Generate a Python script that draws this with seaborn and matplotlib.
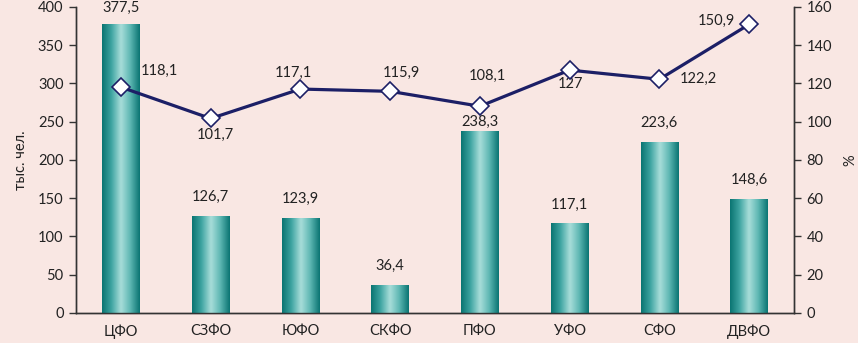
import numpy as np
import matplotlib
matplotlib.use("Agg")
import matplotlib.pyplot as plt
import seaborn as sns
from matplotlib.colors import LinearSegmentedColormap

# data
regions = ["ЦФО", "СЗФО", "ЮФО", "СКФО", "ПФО", "УФО", "СФО", "ДВФО"]
people = [377.5, 126.7, 123.9, 36.4, 238.3, 117.1, 223.6, 148.6]   # тыс. чел.
percent = [118.1, 101.7, 117.1, 115.9, 108.1, 127.0, 122.2, 150.9]  # %

# label offsets (pixels)
bar_offsets = [16, 19, 19, 19, 9, 19, 19, 19]
pct_offsets = [(38, 16), (5, -16), (-7, 16), (11, 18), (7, 30), (1, -14), (39, 0), (-33, 4)]

bg = "#F9E7E3"
navy = "#1C1F66"
ink = "#222222"
fs = 10.5
sns.set_theme(style="white")
plt.rcParams["font.family"] = ["Lato", "DejaVu Sans"]

fig = plt.figure(figsize=(8.58, 3.43), dpi=100, facecolor=bg)
ax = fig.add_axes([0.0886, 0.0875, 0.8368, 0.8921])
ax.set_facecolor(bg)

sns.barplot(x=regions, y=people, ax=ax, color="#138381", width=0.42,
            edgecolor="none", zorder=2)

# cylinder-like gradient on each bar
teal = LinearSegmentedColormap.from_list(
    "teal", ["#0B7573", "#3FA5A2", "#A9DEDA", "#5DB7B3", "#0B7573"])
grad = np.linspace(0, 1, 64).reshape(1, -1)
for p, dy in zip(ax.patches, bar_offsets):
    x0, y0 = p.get_x(), p.get_y()
    w, h = p.get_width(), p.get_height()
    im = ax.imshow(grad, cmap=teal, aspect="auto", extent=[x0, x0 + w, y0, y0 + h],
                   zorder=3, interpolation="bicubic")
    im.set_clip_path(p)
    ax.annotate(f"{h:.1f}".replace(".", ","), (x0 + w / 2, y0 + h),
                xytext=(0, dy), textcoords="offset pixels",
                ha="center", va="center", fontsize=fs, color=ink,
                annotation_clip=False)

ax.set_xlim(-0.5, len(regions) - 0.5)
ax.set_ylim(0, 400)
ax.set_yticks(range(0, 401, 50))
ax.set_ylabel("тыс. чел.", fontsize=fs, color=ink, labelpad=7)

ax2 = ax.twinx()
xs = np.arange(len(regions))
sns.lineplot(x=xs, y=percent, ax=ax2, color=navy, linewidth=2.3, marker="D",
             markersize=9, markerfacecolor="white", markeredgecolor=navy,
             markeredgewidth=1.2, zorder=5)
for x, v, off in zip(xs, percent, pct_offsets):
    txt = f"{v:.1f}".replace(".", ",")
    if txt.endswith(",0"):
        txt = txt[:-2]
    ax2.annotate(txt, (x, v), xytext=off, textcoords="offset pixels",
                 ha="center", va="center", fontsize=fs, color=ink)
ax2.set_ylim(0, 160)
ax2.set_yticks(range(0, 161, 20))
ax2.set_ylabel("%", fontsize=fs, color=ink, labelpad=8)

# category boundary ticks on the x axis
ax.set_xticks(xs)
ax.set_xticks(np.arange(-0.5, len(regions)), minor=True)
ax.tick_params(axis="x", which="major", length=0, pad=8, labelsize=fs, colors=ink)
ax.tick_params(axis="x", which="minor", length=5, width=1, color="#333333", direction="out")
ax.tick_params(axis="y", length=5, width=1, color="#333333", direction="out",
               labelsize=fs, labelcolor=ink, pad=4)
ax2.tick_params(axis="y", length=5, width=1, color="#333333", direction="out",
                labelsize=fs, labelcolor=ink, pad=4)

for a in (ax, ax2):
    a.spines["top"].set_visible(False)
    for s in ("left", "right", "bottom"):
        a.spines[s].set_color("#333333")
        a.spines[s].set_linewidth(1)

fig.savefig("out.png", dpi=100, facecolor=bg)
